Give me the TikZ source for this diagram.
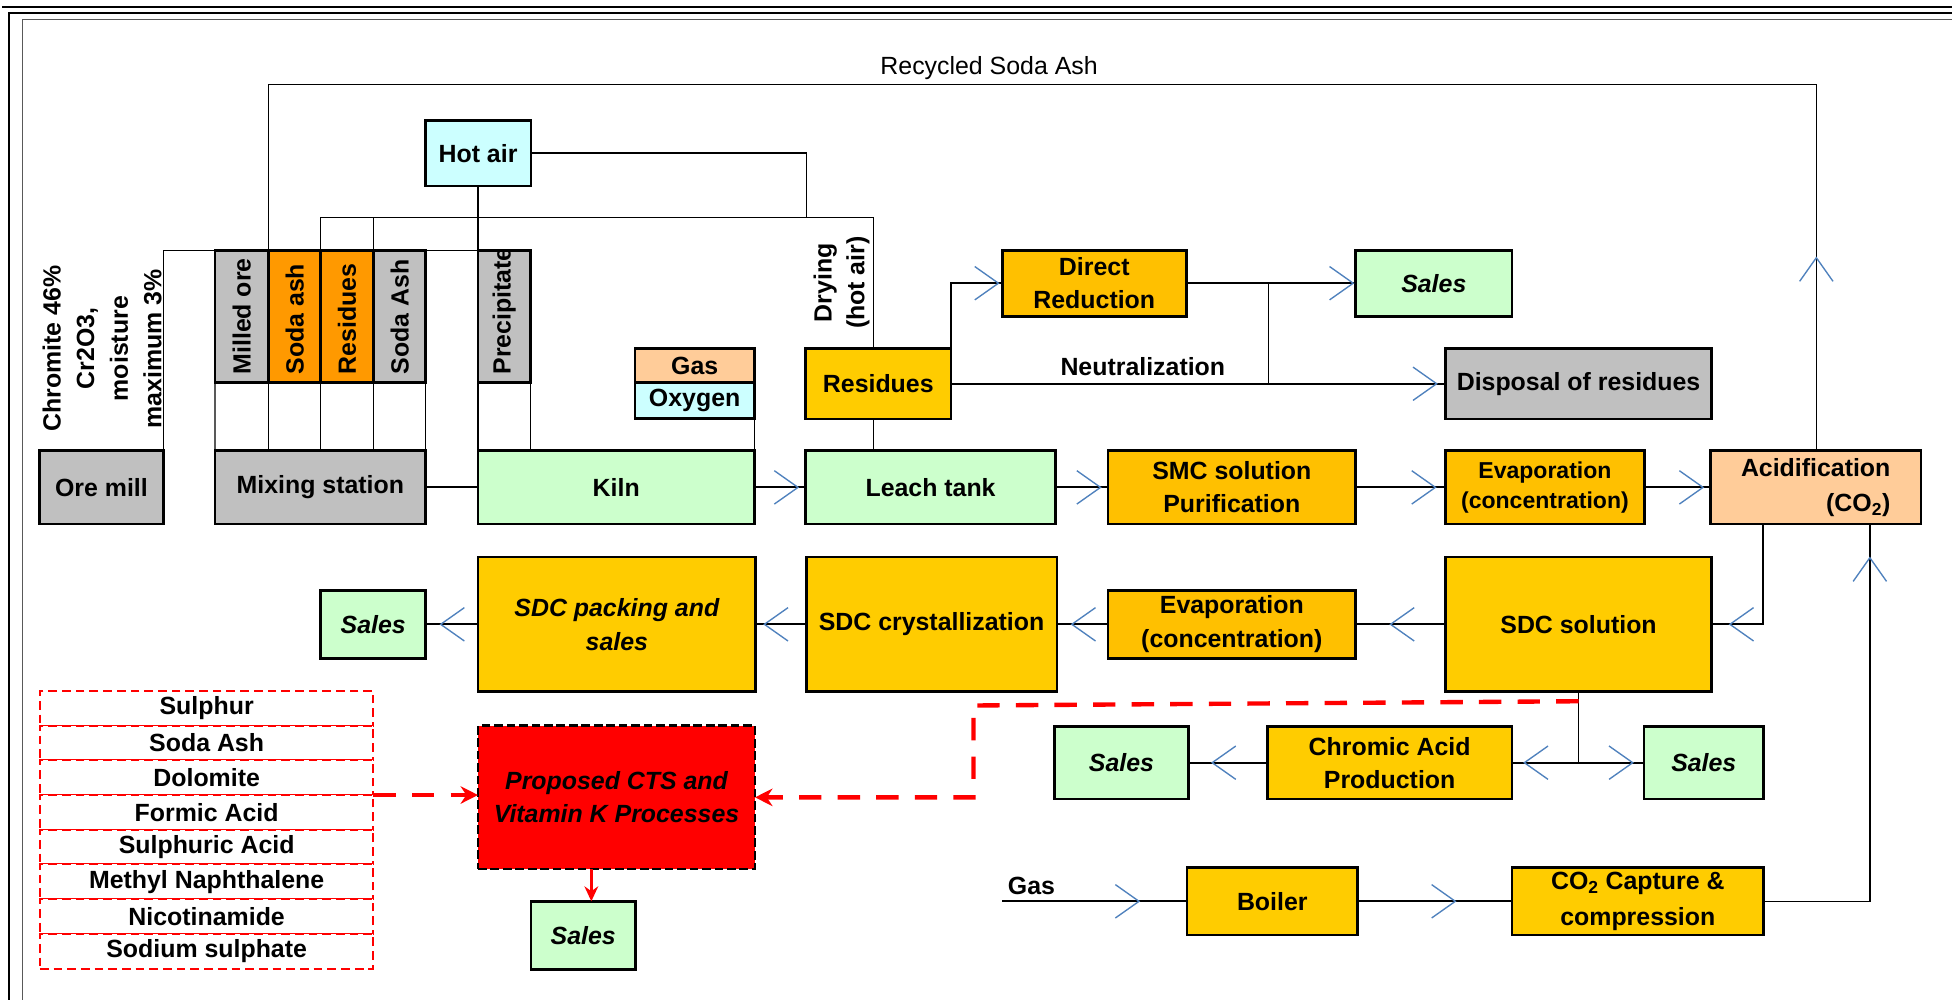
\documentclass[tikz,border=0pt]{standalone}
\usepackage{fontspec}
\setmainfont{Liberation Sans}
\usetikzlibrary{arrows.meta,decorations.markings,calc}
\definecolor{cgray}{HTML}{C0C0C0}
\definecolor{corange}{HTML}{FF9900}
\definecolor{cgreen}{HTML}{CCFFCC}
\definecolor{ccyan}{HTML}{CCFFFF}
\definecolor{cpeach}{HTML}{FFCC99}
\definecolor{cgoldA}{HTML}{FFC000}
\definecolor{cgoldB}{HTML}{FFCC00}
\definecolor{cchev}{HTML}{4F81BD}
\newcommand\labf{\fontsize{20}{26.5}\selectfont\bfseries}
\tikzset{
  boxn/.style={draw=black, line width=2.2pt, inner sep=0pt, outer sep=0pt, align=center, font=\labf},
  salesb/.style={boxn, fill=cgreen, font=\labf\itshape},
  rotlab/.style={rotate=90, anchor=west, inner sep=0pt, font=\labf},
  conn/.style={draw=black, line width=1.5pt},
  lnthin/.style={draw=black, line width=1.1pt},
  chevln/.style={draw=cchev, line width=1.1pt},
  chv/.style={postaction={decorate}, decoration={markings, mark=at position #1 with {\draw[chevln] (-19pt,13.4pt) -- (0pt,0pt) -- (-19pt,-13.4pt);}}},
  listbox/.style={draw=red, line width=1.6pt, dash pattern=on 7pt off 4pt, fill=white, inner sep=0pt, outer sep=0pt, font=\labf, minimum width=268pt, minimum height=27.875pt},
  reddash/.style={draw=red, line width=3.5pt, dash pattern=on 18pt off 13pt},
  redarr/.style={draw=red, line width=2.5pt, -{Stealth[length=12pt,width=11pt]}},
}
\begin{document}
\begin{tikzpicture}[x=1pt,y=-1pt]
\useasboundingbox (0,0) rectangle (1568,803);
% page frame lines
\draw[line width=1.6pt] (2,5.5) -- (1568,5.5);
\draw[line width=1.6pt] (7,803) -- (7,10.7) -- (1568,10.7);
\draw[line width=0.9pt, black!65] (18.2,803) -- (18.2,16) -- (1568,16);

% ---------- nodes ----------
\node[boxn, fill=cgray, minimum width=100pt, minimum height=59pt] (oremill) at (81.5,391.5) {Ore mill};
\node[rotate=90, font=\fontsize{20}{27}\selectfont\bfseries, align=center, inner sep=0pt] (chromtxt) at (82,280) {Chromite 46\%\\Cr2O3,\\moisture\\maximum 3\%};

\node[boxn, fill=cgray, minimum width=43pt, minimum height=106.5pt] (milled) at (194.2,254.25) {};
\node[boxn, fill=corange, minimum width=41.9pt, minimum height=106.5pt] (sodaash1) at (236.65,254.25) {};
\node[boxn, fill=corange, minimum width=42.4pt, minimum height=106.5pt] (resid1) at (278.8,254.25) {};
\node[boxn, fill=cgray, minimum width=42pt, minimum height=106.5pt] (sodaash2) at (321,254.25) {};
\node[boxn, fill=cgray, minimum width=42pt, minimum height=106.5pt] (precip) at (405,254.25) {};
\node[rotlab] (tmilled) at (194.2,301) {Milled ore};
\node[rotlab] (tsoda1) at (236.65,301) {Soda ash};
\node[rotlab] (tresid1) at (278.8,301) {Residues};
\node[rotlab] (tsoda2) at (321,301) {Soda Ash};
\begin{scope}
\clip ($(precip.south west)+(1.1,-1.1)$) rectangle ($(precip.north east)+(-1.1,1.1)$);
\node[rotlab] (tprecip) at (405,301) {Precipitate};
\end{scope}

\node[boxn, fill=cgray, minimum width=169.3pt, minimum height=59pt] (mixing) at (257.35,391.5) {Mixing station};
\node[boxn, fill=ccyan, minimum width=85pt, minimum height=53pt] (hotair) at (384,123) {Hot air};
\node[boxn, fill=cgreen, minimum width=222pt, minimum height=59pt] (kiln) at (495,391.5) {Kiln};
\node[boxn, fill=cpeach, minimum width=96pt, minimum height=27.5pt] (gas) at (558,293.75) {Gas};
\node[boxn, fill=ccyan, minimum width=96pt, minimum height=28.5pt] (oxygen) at (558,321.75) {Oxygen};
\node[boxn, fill=cgoldB, minimum width=117pt, minimum height=56.5pt] (resid2) at (705.5,308.25) {Residues};
\node[rotate=90, font=\labf, align=center, inner sep=0pt] (drytxt) at (676,227) {Drying\\(hot air)};
\node[boxn, fill=cgreen, minimum width=201pt, minimum height=59pt] (leach) at (747.5,391.5) {Leach tank};
\node[boxn, fill=cgoldA, minimum width=148pt, minimum height=53pt] (directred) at (879,227.5) {Direct\\Reduction};
\node[salesb, minimum width=125.5pt, minimum height=53pt] (sales1) at (1151.75,227.5) {Sales};
\node[boxn, fill=cgray, minimum width=214pt, minimum height=56.5pt] (disposal) at (1268,308.25) {Disposal of residues};
\node[boxn, fill=cgoldA, minimum width=199pt, minimum height=59pt] (smc) at (989.5,391.5) {SMC solution\\Purification};
\node[boxn, fill=cgoldA, minimum width=160pt, minimum height=59pt, font=\fontsize{18.5}{24}\selectfont\bfseries] (evap1) at (1241,391.5) {Evaporation\\(concentration)};
\node[boxn, fill=cpeach, minimum width=169pt, minimum height=59pt, align=right, font=\fontsize{20}{28}\selectfont\bfseries] (acid) at (1458.5,391.5) {Acidification\\(CO\textsubscript{2})};

\node[boxn, fill=cgoldB, minimum width=214pt, minimum height=108.2pt] (sdcsol) at (1268,501.5) {SDC solution};
\node[boxn, fill=cgoldA, minimum width=199pt, minimum height=54.6pt, font=\fontsize{20}{27}\selectfont\bfseries] (evap2) at (989.5,501.5) {Evaporation\\(concentration)};
\node[boxn, fill=cgoldB, minimum width=201.4pt, minimum height=108.2pt] (sdccry) at (748.3,501.5) {SDC crystallization};
\node[boxn, fill=cgoldB, minimum width=223pt, minimum height=108.2pt, font=\fontsize{20}{27}\selectfont\bfseries\itshape] (sdcpack) at (495.5,501.5) {SDC packing and\\sales};
\node[salesb, minimum width=84.4pt, minimum height=54.6pt] (sales2) at (299.8,501.5) {Sales};

\foreach \t [count=\i] in {Sulphur,Soda Ash,Dolomite,Formic Acid,Sulphuric Acid,Methyl Naphthalene,Nicotinamide,Sodium sulphate}
  \node[listbox] (list\i) at (166,{568.94+(\i-1)*27.875}) {\t};

\node[boxn, fill=red, dash pattern=on 7pt off 3pt, minimum width=222.5pt, minimum height=115pt, font=\labf\itshape] (proposed) at (495.25,640.5) {Proposed CTS and\\Vitamin K Processes};
\node[salesb, minimum width=83.9pt, minimum height=55pt] (sales3) at (468.45,751.5) {Sales};

\node[salesb, minimum width=107.7pt, minimum height=58.3pt] (sales4) at (900.85,612.65) {Sales};
\node[boxn, fill=cgoldB, minimum width=196.5pt, minimum height=58.3pt] (chromic) at (1116.25,612.65) {Chromic Acid\\Production};
\node[salesb, minimum width=96.2pt, minimum height=58.3pt] (sales5) at (1368.6,612.65) {Sales};

\node[boxn, fill=cgoldB, minimum width=136.9pt, minimum height=54pt] (boiler) at (1022,724) {Boiler};
\node[boxn, fill=cgoldB, minimum width=202.2pt, minimum height=54pt, font=\fontsize{20}{28.5}\selectfont\bfseries] (co2) at (1315.6,724) {CO\textsubscript{2} Capture \&\\compression};

\node[font=\fontsize{20}{24}\selectfont, inner sep=0pt] (rectxt) at (794.5,55) {Recycled Soda Ash};
\node[font=\labf, inner sep=0pt] (neut) at (918,294.6) {Neutralization};
\node[font=\labf, inner sep=0pt] (gastxt) at (828.5,711.7) {Gas};

% ---------- connectors ----------
\coordinate (rtop) at (1459,68);
\coordinate (hjoin) at (648,174.5);
\coordinate (dcorner) at (701.8,174.5);
\coordinate (jx) at (1019,0);
\coordinate (acidLx) at (1416.5,0);
\coordinate (acidRx) at (1502,0);
\coordinate (gasin) at (805,724);
\coordinate (px) at (475,0);
\coordinate (jchr) at (sdcsol.south |- chromic.east);
\coordinate (rd1) at ($(sdcsol.south)+(0,7.7)$);
\coordinate (rd2) at (782,566.7);

\draw[lnthin] (oremill.north east) |- (milled.north west);
\draw[lnthin] (sodaash2.north east) -- (precip.north west);
\draw[lnthin] (milled.south west) -- (mixing.north west);
\draw[lnthin] (milled.south east) -- (milled.south east |- mixing.north);
\draw[lnthin] (resid1.south west) -- (resid1.south west |- mixing.north);
\draw[lnthin] (resid1.south east) -- (resid1.south east |- mixing.north);
\draw[lnthin] (sodaash2.south east) -- (mixing.north east);
\draw[lnthin] (precip.south west) -- (kiln.north west);
\draw[lnthin] (precip.south east) -- (precip.south east |- kiln.north);
\draw[lnthin] (hotair.south) -- (precip.north west);
\draw[lnthin] (hotair.east) -| (hjoin);
\draw[lnthin] (resid1.north west) |- (dcorner) -- (dcorner |- resid2.north);
\draw[lnthin] (resid1.north east) -- (resid1.north east |- dcorner);
\draw[lnthin] (dcorner |- resid2.south) -- (dcorner |- leach.north);
\draw[lnthin] (oxygen.south east) -- (kiln.north east);
\draw[lnthin, chv=155pt] (acid.north -| rtop) -- (rtop) -| (milled.north east);

\draw[conn] (mixing.east) -- (kiln.west);
\draw[conn, chv=-6pt] (kiln.east) -- (leach.west);
\draw[conn, chv=-6pt] (leach.east) -- (smc.west);
\draw[conn, chv=-8pt] (smc.east) -- (evap1.west);
\draw[conn, chv=-6pt] (evap1.east) -- (acid.west);

\draw[conn, chv=-3pt] (resid2.north east) |- (directred.west);
\draw[conn, chv=-7pt] (resid2.east) -- (disposal.west);
\draw[conn, chv=-2pt] (directred.east) -- (sales1.west);
\draw[lnthin] (jx |- directred.east) -- (jx |- disposal.west);

\draw[conn, chv=-14.6pt] (acid.south -| acidLx) |- (sdcsol.east);
\draw[conn, chv=-28pt] (sdcsol.west) -- (evap2.east);
\draw[conn, chv=-12pt] (evap2.west) -- (sdccry.east);
\draw[conn, chv=-7pt] (sdccry.west) -- (sdcpack.east);
\draw[conn, chv=-12pt] (sdcpack.west) -- (sales2.east);

\draw[lnthin] (sdcsol.south) -- (jchr);
\draw[conn, chv=-10pt] (jchr) -- (chromic.east);
\draw[conn, chv=-9pt] (jchr) -- (sales5.west);
\draw[conn, chv=-19pt] (chromic.west) -- (sales4.east);

\draw[conn, chv=-38.6pt] (gasin) -- (boiler.west);
\draw[conn, chv=-45.5pt] (boiler.east) -- (co2.west);
\draw[lnthin, chv=-27pt] (co2.east) -| (acid.south -| acidRx);

\draw[reddash, -{Stealth[length=14pt,width=14pt]}] (rd1) -- (rd2) -- (rd2 |- proposed.east) -- (proposed.east);
\draw[reddash, -{Stealth[length=14pt,width=14pt]}] (list3.south east) -- (list3.south east -| proposed.west);
\draw[redarr] (px |- proposed.south) -- (px |- sales3.north);
\end{tikzpicture}
\end{document}
